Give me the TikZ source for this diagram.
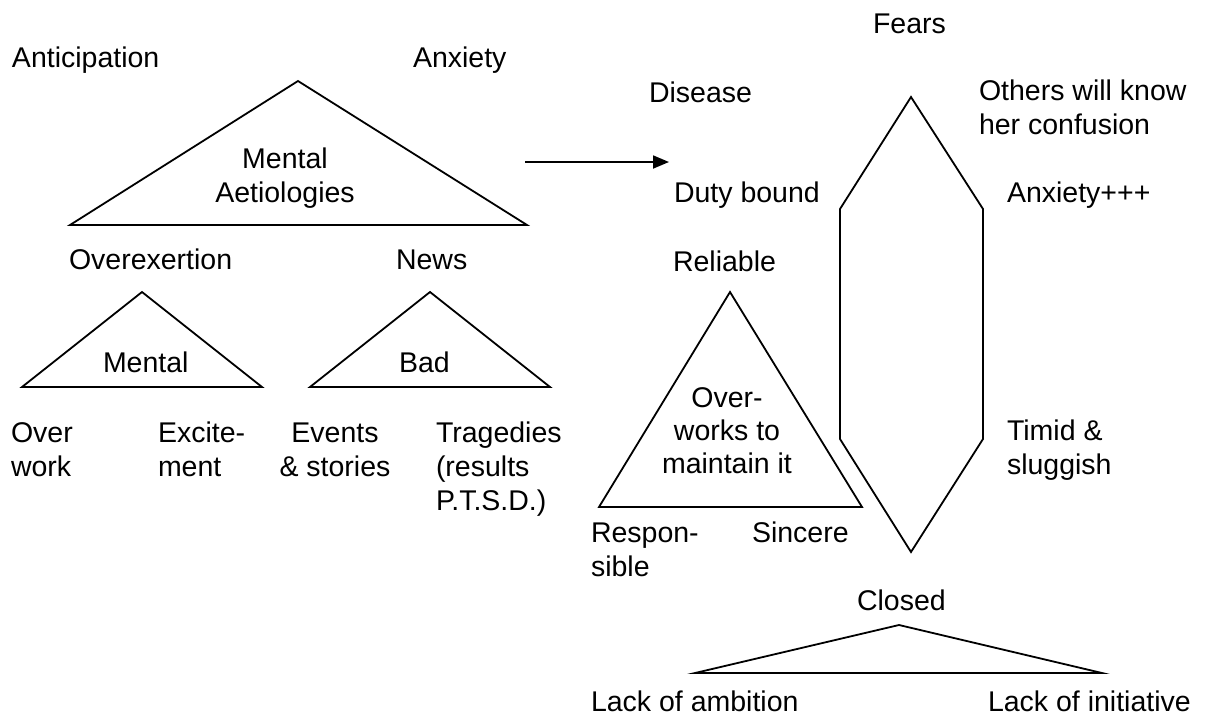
\documentclass[tikz,border=0pt]{standalone}
\usepackage{fontspec}
\setmainfont{Liberation Sans}
\usetikzlibrary{arrows.meta}
\newcommand\mlL[1]{\vtop{\baselineskip=34pt\lineskiplimit=-100pt\halign{##\hfil\cr#1\crcr}}}
\newcommand\mlC[1]{\vtop{\baselineskip=34pt\lineskiplimit=-100pt\halign{\hfil##\hfil\cr#1\crcr}}}
\newcommand\mlCt[1]{\vtop{\baselineskip=33pt\lineskiplimit=-100pt\halign{\hfil##\hfil\cr#1\crcr}}}
\begin{document}
\begin{tikzpicture}[x=1pt,y=-1pt,
  lbl/.style={inner sep=0pt,outer sep=0pt,anchor=base west,font=\fontsize{28.5}{34}\selectfont},
  clbl/.style={inner sep=0pt,outer sep=0pt,anchor=base,font=\fontsize{28.5}{34}\selectfont},
  shp/.style={draw=black,line width=1.8pt,line join=miter},
  conn/.style={line width=1.8pt,-{Triangle[length=16pt,width=13pt]}}]
\useasboundingbox (0,0) rectangle (1206,718);
% ---- left: mental aetiologies ----
\node[lbl] (antic) at (12,67) {Anticipation};
\node[lbl] (anx) at (413,67) {Anxiety};
\draw[shp] (298,81) -- (527,225) -- (70,225) -- cycle;
\node[clbl] (ment) at (285,168) {\mlC{Mental\cr Aetiologies}};
\node[lbl] (overex) at (69,269) {Overexertion};
\node[lbl] (news) at (396,269) {News};
\draw[shp] (142,292) -- (262,387) -- (22,387) -- cycle;
\node[lbl] (mental) at (103,372) {Mental};
\draw[shp] (430,292) -- (550,387) -- (310,387) -- cycle;
\node[lbl] (bad) at (399,372) {Bad};
\node[lbl] (overwork) at (11,442) {\mlL{Over\cr work}};
\node[lbl] (excite) at (158,442) {\mlL{Excite-\cr ment}};
\node[clbl] (events) at (335,442) {\mlC{Events\cr \& stories}};
\node[lbl] (trag) at (436,442) {\mlL{Tragedies\cr (results\cr P.T.S.D.)}};
% ---- arrow ----
\coordinate (arrS) at (525,162);
\coordinate (arrE) at (669,162);
\draw[conn] (arrS) -- (arrE);
% ---- right: fears ----
\node[lbl] (fears) at (873,33) {Fears};
\node[lbl] (disease) at (649,102) {Disease};
\node[lbl] (others) at (979,100) {\mlL{Others will know\cr her confusion}};
\node[lbl] (duty) at (674,202) {Duty bound};
\node[lbl] (anx3) at (1007,202) {Anxiety+++};
\node[lbl] (reliable) at (673,271) {Reliable};
\draw[shp] (911,97) -- (983,209) -- (983,439) -- (911,552) -- (840,439) -- (840,209) -- cycle;
\draw[shp] (730,292) -- (862,507) -- (599,507) -- cycle;
\node[clbl] (overw) at (727,407) {\mlCt{Over-\cr works to\cr maintain it}};
\node[lbl] (timid) at (1007,440) {\mlL{Timid \&\cr sluggish}};
\node[lbl] (resp) at (591,542) {\mlL{Respon-\cr sible}};
\node[lbl] (sinc) at (752,542) {Sincere};
\node[lbl] (closed) at (857,610) {Closed};
\draw[shp] (899,625) -- (1102,673) -- (695,673) -- cycle;
\node[lbl] (lamb) at (591,711) {Lack of ambition};
\node[lbl] (linit) at (988,711) {Lack of initiative};
\end{tikzpicture}
\end{document}
